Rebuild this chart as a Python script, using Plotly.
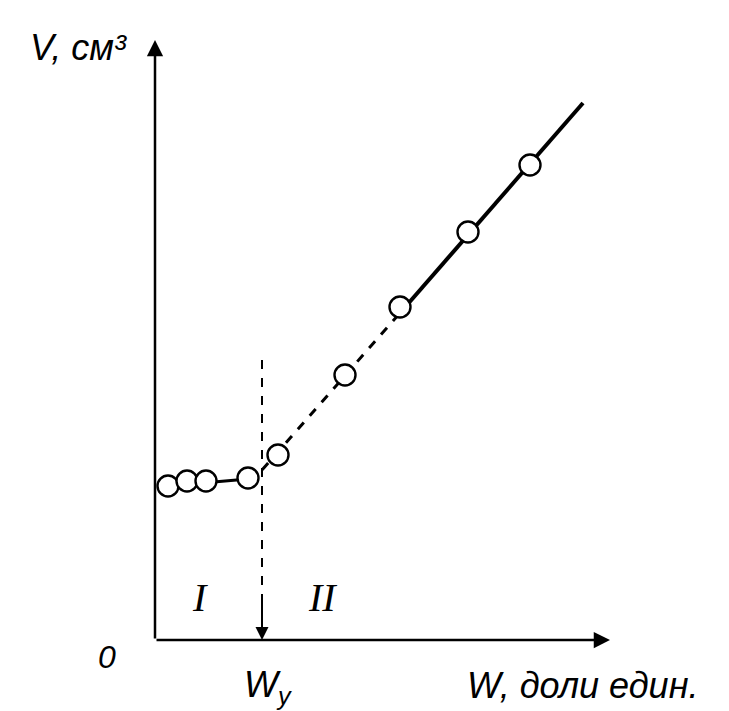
import plotly.graph_objects as go

w_points = [0.13, 0.32, 0.51, 0.93, 1.23, 1.90, 2.45, 3.13, 3.75]
v_points = [1.54, 1.59, 1.59, 1.62, 1.85, 2.65, 3.33, 4.08, 4.75]

# trend line, split where the print is solid / broken
w_solid_low = [0.13, 0.93]
v_solid_low = [1.54, 1.61]
w_dashed = [0.93, 1.00, 2.45]
v_dashed = [1.61, 1.62, 3.27]
w_solid_high = [2.45, 4.28]
v_solid_high = [3.27, 5.37]

w_shrink = 1.07     # W_у, shrinkage limit
w_shrink_top = 2.8

x_max, y_max = 4.55, 6.0
x_rng, y_rng = 4.65, 6.2

fig = go.Figure()

fig.add_trace(go.Scatter(x=w_solid_low, y=v_solid_low, mode='lines',
                         line=dict(color='black', width=3), showlegend=False))
fig.add_trace(go.Scatter(x=w_dashed, y=v_dashed, mode='lines',
                         line=dict(color='black', width=3, dash='dash'), showlegend=False))
fig.add_trace(go.Scatter(x=w_solid_high, y=v_solid_high, mode='lines',
                         line=dict(color='black', width=4), showlegend=False))

# vertical dashed line at W_у
fig.add_trace(go.Scatter(x=[w_shrink, w_shrink], y=[w_shrink_top, 0.12], mode='lines',
                         line=dict(color='black', width=2, dash='dash'), showlegend=False))

fig.add_trace(go.Scatter(
    x=w_points, y=v_points, mode='markers',
    marker=dict(size=21, color='white', line=dict(color='black', width=2.4)),
    showlegend=False
))


def label(x, y, text, size=26, family='Liberation Sans'):
    # labels sit outside the axis ranges, so place them in paper units
    return dict(x=x / x_rng, y=y / y_rng, xref='paper', yref='paper', text=text,
                xanchor='center', yanchor='middle', showarrow=False,
                font=dict(size=size, family=family, color='black'))


arrow = dict(xref='x', yref='y', axref='x', ayref='y', showarrow=True,
             arrowhead=2, arrowsize=1.3, arrowcolor='black', text='')
annotations = [
    dict(x=x_max, y=0, ax=0, ay=0, arrowwidth=2.5, **arrow),
    dict(x=0, y=y_max, ax=0, ay=0, arrowwidth=2.5, **arrow),
    dict(x=w_shrink, y=0.0, ax=w_shrink, ay=0.4, arrowwidth=2, **arrow),
    label(-0.77, 5.93, '<i>V, см³</i>', 36),
    label(4.27, -0.45, '<i>W, доли един.</i>', 36),
    label(1.13, -0.47, '<i>W<sub>у</sub></i>', 36),
    label(-0.48, -0.17, '<i>0</i>', 32),
    label(0.45, 0.43, '<i>I</i>', 40, 'Liberation Serif'),
    label(1.67, 0.43, '<i>II</i>', 40, 'Liberation Serif'),
]

fig.update_layout(
    width=729, height=711,
    margin=dict(l=147, r=117, t=12, b=79),
    plot_bgcolor='white', paper_bgcolor='white',
    xaxis=dict(range=[0, x_rng], visible=False),
    yaxis=dict(range=[0, y_rng], visible=False),
    annotations=annotations,
)

fig.write_html("out.html")
